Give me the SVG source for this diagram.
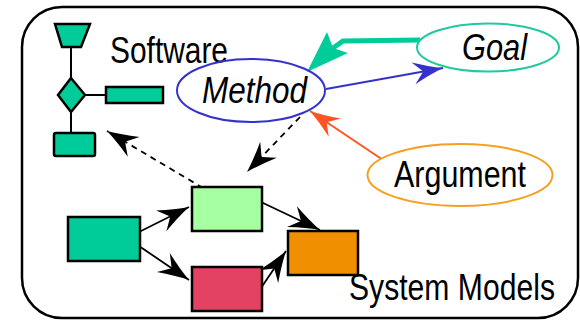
<svg xmlns="http://www.w3.org/2000/svg" width="580" height="320" viewBox="0 0 580 320">
  <style>
    .lbl { font-family: "Liberation Sans Narrow", "Liberation Sans", Arial, sans-serif; font-size: 36.5px; fill: #000; }
    .it { font-style: italic; }
    .box { stroke: #000; stroke-width: 2.5; }
    .wire { fill: none; stroke: #000; stroke-width: 2; }
    .link { fill: none; stroke: #000; stroke-width: 1.8; }
    .dash { stroke-dasharray: 6 5; }
  </style>
  <defs>
    <marker id="headBlack" markerUnits="userSpaceOnUse" viewBox="-32 -12 34 24" markerWidth="34" markerHeight="24" refX="0" refY="0" orient="auto" overflow="visible">
      <path d="M0,0 Q-14,-4 -31,-11.5 L-21,0 L-31,11.5 Q-14,4 0,0 Z" fill="#000"/>
    </marker>
    <marker id="headBlue" markerUnits="userSpaceOnUse" viewBox="-32 -12 34 24" markerWidth="34" markerHeight="24" refX="0" refY="0" orient="auto" overflow="visible">
      <path d="M0,0 Q-14,-4 -30,-11 L-20,0 L-30,11 Q-14,4 0,0 Z" fill="#3333CC"/>
    </marker>
    <marker id="headRed" markerUnits="userSpaceOnUse" viewBox="-32 -12 34 24" markerWidth="34" markerHeight="24" refX="0" refY="0" orient="auto" overflow="visible">
      <path d="M0,0 Q-14,-4 -30,-11 L-20,0 L-30,11 Q-14,4 0,0 Z" fill="#FF5522"/>
    </marker>
  </defs>

  <!-- outer frame -->
  <rect id="frame" x="22" y="7" width="556" height="311" rx="40" ry="40" fill="#fff" stroke="#000" stroke-width="2.5"/>

  <!-- software structure icon -->
  <g id="software">
    <path class="wire" d="M71,47 V78 M71,112 V133 M85,95 H106"/>
    <polygon points="55,24 90,24 81,47 62,47" fill="#00CC99" stroke="#000" stroke-width="2.5"/>
    <polygon points="71,78 85,95 71,112 58,95" fill="#00CC99" stroke="#000" stroke-width="2.5"/>
    <rect class="box" x="106" y="87" width="57" height="16" fill="#00CC99"/>
    <rect class="box" x="54" y="133" width="41" height="23" rx="2" fill="#00CC99"/>
    <text class="lbl" x="110" y="62.5" textLength="118" lengthAdjust="spacingAndGlyphs">Software</text>
  </g>

  <!-- connectors -->
  <g id="connectors">
    <!-- Goal to Method (thick) -->
    <polyline points="420,40 343,41 333,48" fill="none" stroke="#00CC99" stroke-width="5"/>
    <polygon points="307,72 327,32 333,48 348,53" fill="#00CC99"/>
    <!-- Method to Goal -->
    <line x1="326" y1="89" x2="443" y2="68" stroke="#3333CC" stroke-width="2" marker-end="url(#headBlue)"/>
    <!-- Argument to Method -->
    <line x1="383" y1="160" x2="310" y2="111" stroke="#FF5522" stroke-width="2" marker-end="url(#headRed)"/>
    <!-- Method to model -->
    <line class="link dash" x1="300" y1="117" x2="247" y2="172" marker-end="url(#headBlack)"/>
    <!-- model to software -->
    <line class="link dash" x1="203" y1="188" x2="107" y2="131" marker-end="url(#headBlack)"/>
    <!-- system model flow -->
    <line class="link" x1="139" y1="232" x2="189" y2="207" marker-end="url(#headBlack)"/>
    <line class="link" x1="139" y1="246" x2="189" y2="280" marker-end="url(#headBlack)"/>
    <line class="link" x1="261" y1="202" x2="320" y2="230" marker-end="url(#headBlack)"/>
    <line class="link" x1="261" y1="288" x2="286" y2="251" marker-end="url(#headBlack)"/>
  </g>

  <g id="method">
    <ellipse cx="251" cy="90.5" rx="74" ry="31.5" fill="none" stroke="#3333CC" stroke-width="2"/>
    <text class="lbl it" x="202" y="103" textLength="105" lengthAdjust="spacingAndGlyphs">Method</text>
  </g>

  <g id="goal">
    <ellipse cx="488" cy="47.5" rx="71" ry="24" fill="#fff" stroke="#22C9A0" stroke-width="2"/>
    <text class="lbl it" x="462" y="60" textLength="65" lengthAdjust="spacingAndGlyphs">Goal</text>
  </g>

  <g id="argument">
    <ellipse cx="460" cy="175" rx="92.5" ry="31" fill="#fff" stroke="#F5A020" stroke-width="2"/>
    <text class="lbl" x="394" y="187" textLength="132" lengthAdjust="spacingAndGlyphs">Argument</text>
  </g>

  <g id="models">
    <rect id="m-source" class="box" x="68" y="217" width="72" height="44" fill="#00CC99"/>
    <rect id="m-upper" class="box" x="192" y="187" width="70" height="44" fill="#A6FFA0"/>
    <rect id="m-lower" class="box" x="192" y="267" width="70" height="44" fill="#E44262"/>
    <rect id="m-target" class="box" x="288" y="231" width="70" height="44" fill="#F09000"/>
    <text class="lbl" x="349" y="300" textLength="206" lengthAdjust="spacingAndGlyphs">System Models</text>
  </g>
</svg>
